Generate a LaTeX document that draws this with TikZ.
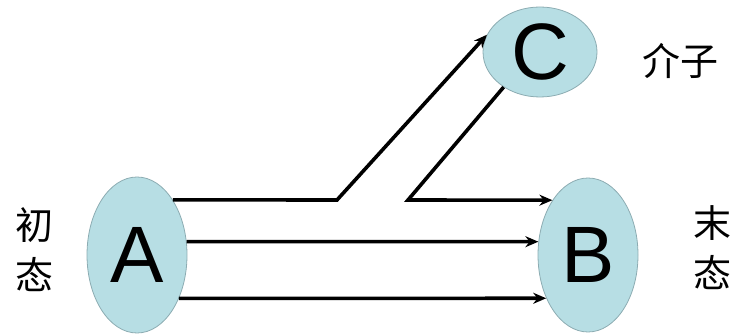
\documentclass[tikz,border=0pt]{standalone}
\usepackage{fontspec}
\setmainfont{Liberation Sans}
\newfontfamily\cjk{Noto Sans CJK SC}
\usetikzlibrary{arrows.meta,shapes.geometric}
\definecolor{stfill}{RGB}{183,222,228}
\definecolor{stedge}{RGB}{140,172,178}
\begin{document}
\begin{tikzpicture}[x=1pt,y=1pt,
  state/.style={ellipse,fill=stfill,draw=stedge,line width=0.8pt,inner sep=0pt,
    font=\fontsize{80}{80}\selectfont},
  arr/.style={line width=3.6pt,-{Stealth[length=13pt,width=11pt]}},
  lbl/.style={font=\cjk\fontsize{38}{50}\selectfont,align=center}]
\useasboundingbox (0,0) rectangle (735,334);
\node[state,minimum width=100pt,minimum height=156pt] (A) at (137,79) {A};
\node[state,minimum width=100pt,minimum height=154pt] (B) at (588,79) {B};
\node[state,minimum width=114pt,minimum height=90pt] (C) at (540,282) {C};
\node[lbl] (ini) at (35,84) {初\\态};
\node[lbl] (fin) at (712,86) {末\\态};
\node[lbl] (med) at (680,273) {介子};
\coordinate (k1) at (337,134);
\coordinate (k2) at (408,134);
\draw[arr,line join=miter] (A.57) -- (k1) -- (C.162);
\draw[arr,line join=miter] (C.224) -- (k2) -- (B.123);
\draw[arr] (A.15) -- (B.165);
\draw[arr] (A.-46) -- (B.-134);
\end{tikzpicture}
\end{document}
